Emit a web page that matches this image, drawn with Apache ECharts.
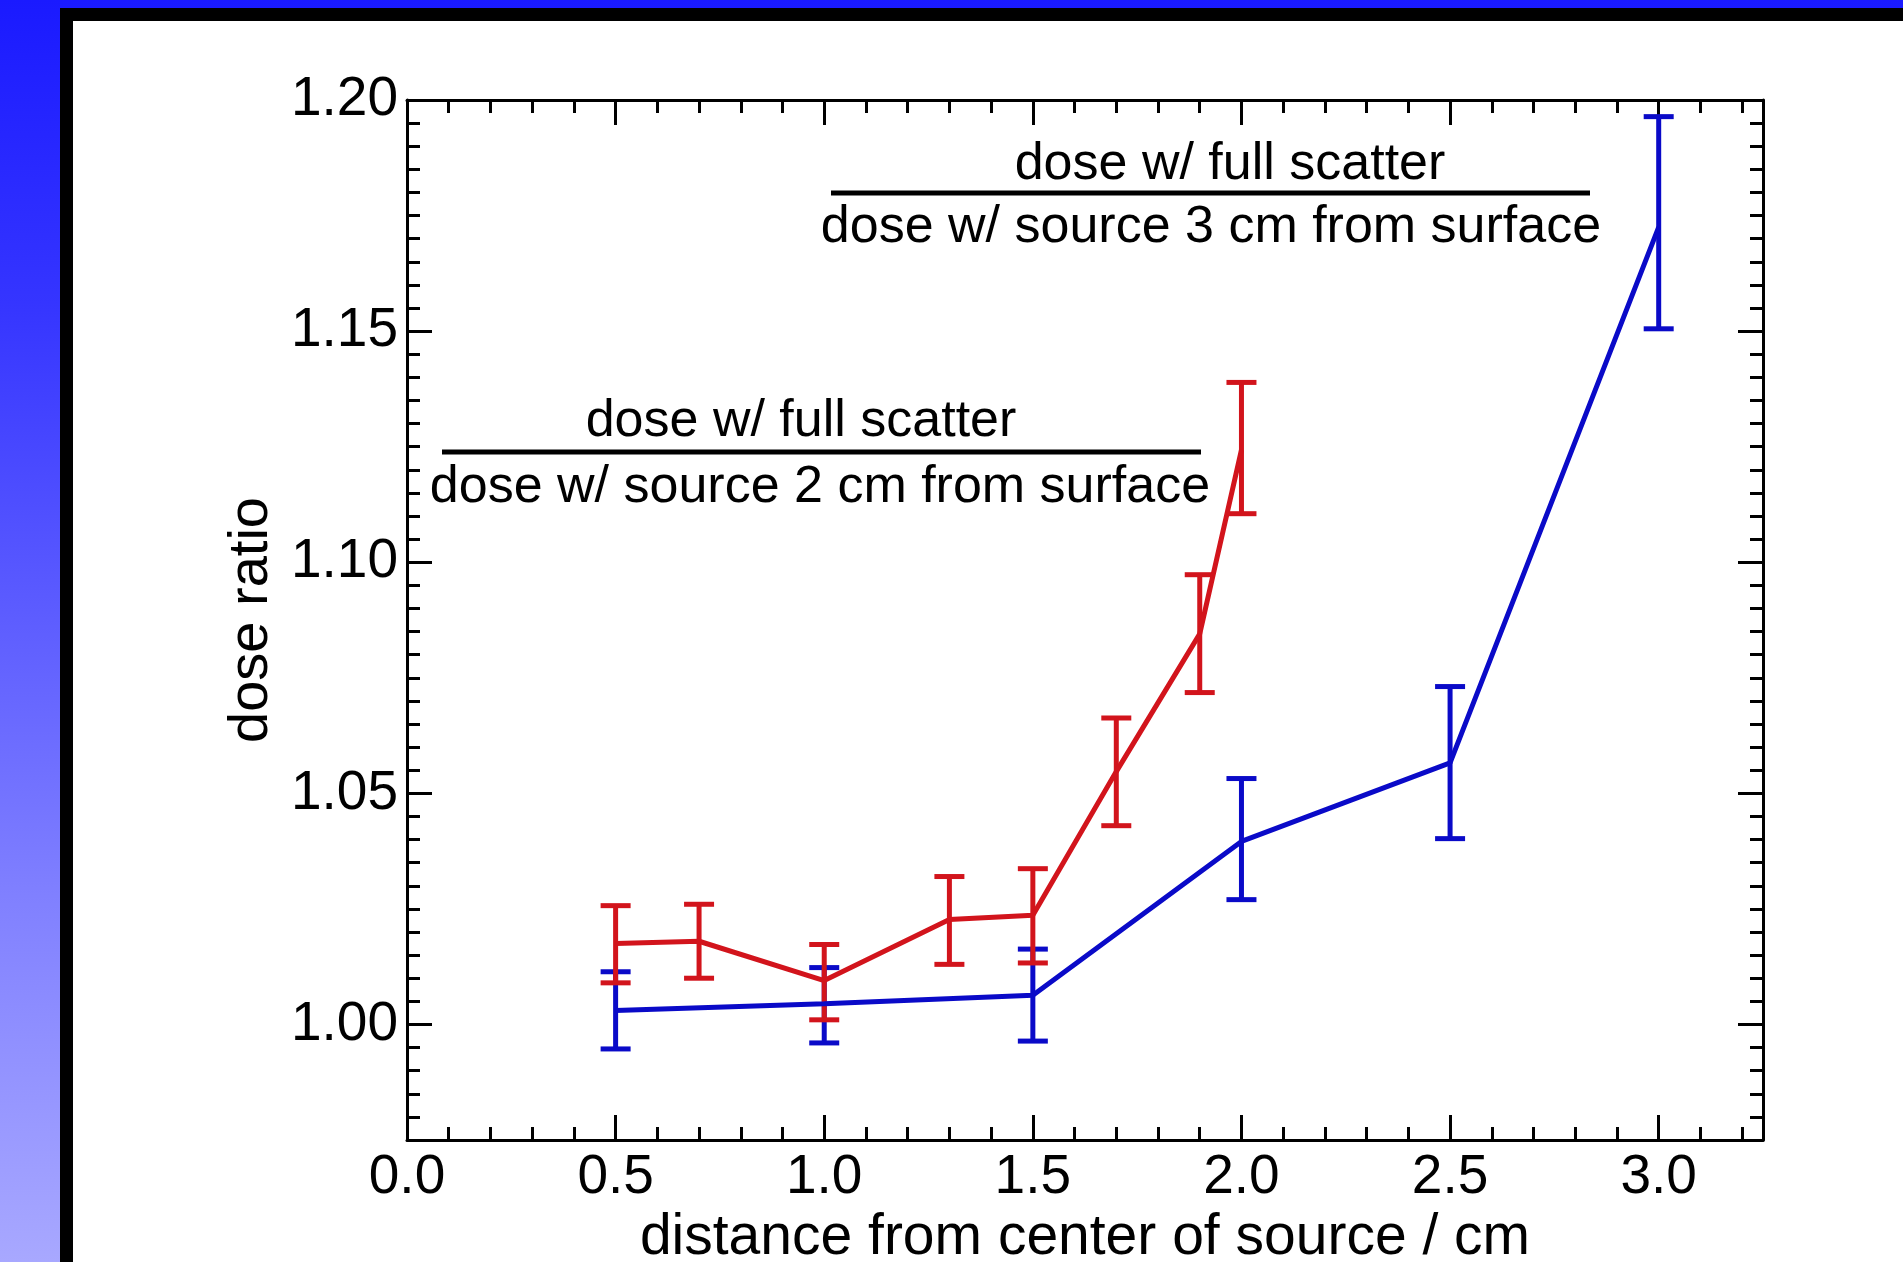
<!DOCTYPE html>
<html>
<head>
<meta charset="utf-8">
<title>dose ratio</title>
<script src="https://cdn.jsdelivr.net/npm/echarts@6/dist/echarts.min.js"></script>
<style>
  html, body {
    margin: 0; padding: 0; width: 1903px; height: 1262px; overflow: hidden;
    background: linear-gradient(to bottom, #1a1aff 0%, #3535ff 24%, #8080ff 71%, #a8a8ff 100%);
  }
  /* white slide panel with the thick black frame */
  #frame { position: absolute; left: 60px; top: 8px; right: -30px; bottom: -30px; background: #fff; border: 13px solid #000; }
  #chart { position: absolute; left: 0; top: 0; width: 1903px; height: 1262px; }
</style>
</head>
<body>
<div id="frame"></div>
<div id="chart"></div>
<script>
var FONT = '"Liberation Sans", Arial, Helvetica, sans-serif';

// source 2 cm from surface (red)
var redX  = [0.5, 0.7, 1.0, 1.3, 1.5, 1.7, 1.9, 2.0];
var redY  = [1.0175, 1.0180, 1.0095, 1.0227, 1.0236, 1.0547, 1.0845, 1.1243];
var redLo = [1.0090, 1.0100, 1.0010, 1.0130, 1.0133, 1.0430, 1.0718, 1.1105];
var redHi = [1.0257, 1.0260, 1.0173, 1.0320, 1.0337, 1.0663, 1.0973, 1.1389];

// source 3 cm from surface (blue)
var blueX  = [0.5, 1.0, 1.5, 2.0, 2.5, 3.0];
var blueY  = [1.0030, 1.0045, 1.0063, 1.0396, 1.0566, 1.1725];
var blueLo = [0.9947, 0.9960, 0.9964, 1.0270, 1.0402, 1.1505];
var blueHi = [1.0114, 1.0123, 1.0163, 1.0532, 1.0731, 1.1964];

var xTicks = [0, 0.5, 1.0, 1.5, 2.0, 2.5, 3.0];
var yTicks = [1.00, 1.05, 1.10, 1.15, 1.20];

var X_MIN = 0, X_MAX = 3.25;
var Y_MIN = 0.975, Y_MAX = 1.20;

var RED = '#d2141c';
var BLUE = '#0a0ac8';

function pairs(xs, ys) {
  return xs.map(function(x, i) { return [x, ys[i]]; });
}
function triples(xs, lo, hi) {
  return xs.map(function(x, i) { return [x, lo[i], hi[i]]; });
}

function errorBarRenderer(color) {
  return function(params, api) {
    var x = api.value(0);
    var lo = api.coord([x, api.value(1)]);
    var hi = api.coord([x, api.value(2)]);
    var half = 15;
    var st = { stroke: color, lineWidth: 5 };
    return {
      type: 'group',
      children: [
        { type: 'line', shape: { x1: lo[0], y1: lo[1], x2: hi[0], y2: hi[1] }, style: st },
        { type: 'line', shape: { x1: lo[0] - half, y1: lo[1], x2: lo[0] + half, y2: lo[1] }, style: st },
        { type: 'line', shape: { x1: hi[0] - half, y1: hi[1], x2: hi[0] + half, y2: hi[1] }, style: st }
      ]
    };
  };
}

// one axis with the short (minor) ticks and the frame line, one with the long ticks + labels
function minorAxis(pos, min, max, step) {
  return {
    type: 'value', position: pos, min: min, max: max, interval: step,
    axisLine: { show: true, onZero: false, lineStyle: { color: '#000', width: 3 } },
    axisTick: { show: true, inside: true, length: 13, lineStyle: { color: '#000', width: 3 } },
    axisLabel: { show: false },
    splitLine: { show: false }
  };
}
function majorAxis(pos, min, max, ticks, withLabels, digits) {
  return {
    type: 'value', position: pos, min: min, max: max,
    axisLine: { show: false, onZero: false },
    axisTick: { show: true, inside: true, length: 25, customValues: ticks, lineStyle: { color: '#000', width: 3 } },
    axisLabel: {
      show: withLabels, customValues: ticks, color: '#000', fontFamily: FONT, fontSize: 55,
      margin: pos === 'left' ? 9 : 10,
      formatter: function(v) { return Number(v).toFixed(digits); }
    },
    splitLine: { show: false }
  };
}

var xBottom = majorAxis('bottom', X_MIN, X_MAX, xTicks, true, 1);
xBottom.name = 'distance from center of source / cm';
xBottom.nameLocation = 'middle';
xBottom.nameGap = 63;
xBottom.nameTextStyle = { color: '#000', fontFamily: FONT, fontSize: 57 };

var yLeft = majorAxis('left', Y_MIN, Y_MAX, yTicks, true, 2);
yLeft.name = 'dose ratio';
yLeft.nameLocation = 'middle';
yLeft.nameGap = 124;
yLeft.nameTextStyle = { color: '#000', fontFamily: FONT, fontSize: 56 };

var chart = echarts.init(document.getElementById('chart'), null, { renderer: 'canvas' });

chart.setOption({
  animation: false,
  backgroundColor: 'transparent',
  grid: { left: 407, top: 100, width: 1356, height: 1040, outerBoundsMode: 'none' },
  xAxis: [
    xBottom,
    minorAxis('bottom', X_MIN, X_MAX, 0.1),
    majorAxis('top', X_MIN, X_MAX, xTicks, false, 1),
    minorAxis('top', X_MIN, X_MAX, 0.1)
  ],
  yAxis: [
    yLeft,
    minorAxis('left', Y_MIN, Y_MAX, 0.005),
    majorAxis('right', Y_MIN, Y_MAX, yTicks, false, 2),
    minorAxis('right', Y_MIN, Y_MAX, 0.005)
  ],
  graphic: [
    { type: 'text', x: 1230, y: 165, style: { text: 'dose w/ full scatter', font: '52px ' + FONT, fill: '#000', textAlign: 'center', textVerticalAlign: 'middle' } },
    { type: 'line', shape: { x1: 831, y1: 193, x2: 1590, y2: 193 }, style: { stroke: '#000', lineWidth: 5 } },
    { type: 'text', x: 1211, y: 228, style: { text: 'dose w/ source 3 cm from surface', font: '52px ' + FONT, fill: '#000', textAlign: 'center', textVerticalAlign: 'middle' } },
    { type: 'text', x: 801, y: 422, style: { text: 'dose w/ full scatter', font: '52px ' + FONT, fill: '#000', textAlign: 'center', textVerticalAlign: 'middle' } },
    { type: 'line', shape: { x1: 442, y1: 452, x2: 1201, y2: 452 }, style: { stroke: '#000', lineWidth: 5 } },
    { type: 'text', x: 820, y: 488, style: { text: 'dose w/ source 2 cm from surface', font: '52px ' + FONT, fill: '#000', textAlign: 'center', textVerticalAlign: 'middle' } }
  ],
  series: [
    {
      name: '3 cm', type: 'line', xAxisIndex: 0, yAxisIndex: 0,
      data: pairs(blueX, blueY), symbol: 'none',
      lineStyle: { color: BLUE, width: 5 }
    },
    {
      name: '3 cm err', type: 'custom', xAxisIndex: 0, yAxisIndex: 0,
      data: triples(blueX, blueLo, blueHi),
      encode: { x: 0, y: [1, 2] },
      renderItem: errorBarRenderer(BLUE)
    },
    {
      name: '2 cm', type: 'line', xAxisIndex: 0, yAxisIndex: 0,
      data: pairs(redX, redY), symbol: 'none',
      lineStyle: { color: RED, width: 5 }
    },
    {
      name: '2 cm err', type: 'custom', xAxisIndex: 0, yAxisIndex: 0,
      data: triples(redX, redLo, redHi),
      encode: { x: 0, y: [1, 2] },
      renderItem: errorBarRenderer(RED)
    }
  ]
});
</script>
</body>
</html>
